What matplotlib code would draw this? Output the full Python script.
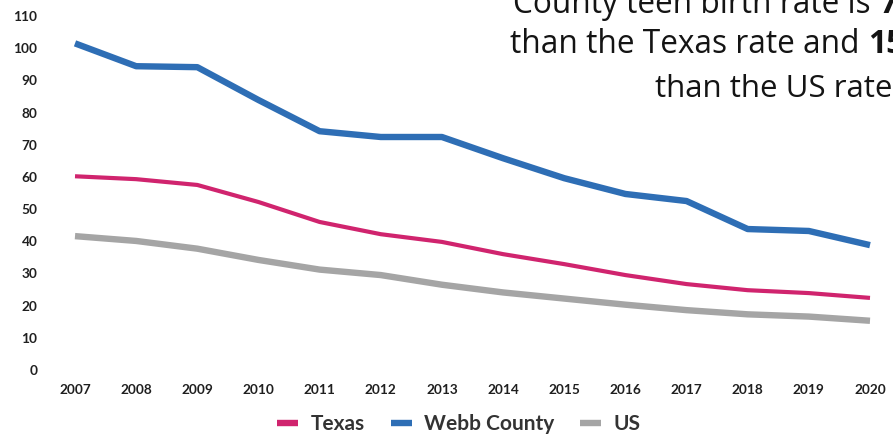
import matplotlib
matplotlib.use("Agg")
import matplotlib.pyplot as plt

years = list(range(2007, 2021))
texas = [60.2, 59.3, 57.5, 52.2, 46.0, 42.2, 39.8, 36.0, 32.9, 29.5, 26.7, 24.8, 23.9, 22.4]
webb = [101.5, 94.4, 94.1, 83.9, 74.2, 72.4, 72.4, 65.8, 59.6, 54.7, 52.5, 43.8, 43.2, 38.8]
us = [41.6, 40.1, 37.7, 34.2, 31.2, 29.5, 26.5, 24.1, 22.2, 20.3, 18.6, 17.3, 16.6, 15.3]
yticks = list(range(0, 111, 10))

W, H = 893, 436
fig = plt.figure(figsize=(W / 100, H / 100), dpi=100)
ax = fig.add_axes([75 / W, (H - 370) / H, 795 / W, 354 / H])

ax.plot(years, us, color="#A5A5A5", lw=4.6, clip_on=False, solid_capstyle="butt", label="US", zorder=2)
ax.plot(years, texas, color="#D0246E", lw=3.0, clip_on=False, solid_capstyle="butt", label="Texas", zorder=3)
ax.plot(years, webb, color="#2E6EB5", lw=4.6, clip_on=False, solid_capstyle="butt", label="Webb County", zorder=4)

ax.set_xlim(2007, 2020)
ax.set_ylim(0, 110)
ax.set_xticks(years)
ax.set_yticks(yticks)
for s in ax.spines.values():
    s.set_visible(False)
ax.tick_params(length=0)
ax.tick_params(axis="y", pad=27)
ax.tick_params(axis="x", pad=10)
for lab in ax.get_xticklabels() + ax.get_yticklabels():
    lab.set_fontfamily("Lato")
    lab.set_fontweight("bold")
    lab.set_fontsize(9.8)
    lab.set_color("#1f1f1f")

handles, labels = ax.get_legend_handles_labels()
order = [1, 2, 0]
leg = fig.legend([handles[i] for i in order], [labels[i] for i in order],
                 loc="center", bbox_to_anchor=(0.514, 0.028), ncol=3, frameon=False,
                 handlelength=1.0, handletextpad=0.6, columnspacing=1.25,
                 prop={"family": "Lato", "weight": "bold", "size": 15})
for t in leg.get_texts():
    t.set_color("#333333")
for h in leg.legend_handles:
    h.set_linewidth(4.6)

tfont = {"family": "Open Sans", "size": 22.8, "weight": "normal", "color": "#141414"}
tfont3 = dict(tfont, size=22.5)
bfont = dict(tfont, weight="bold")
y1 = 1 - 13 / H
y2 = 1 - 53 / H
y3 = 1 - 97 / H
t = fig.text(513 / W, y1, "County teen birth rate is ", va="baseline", ha="left", **tfont)
fig.canvas.draw()
bb = t.get_window_extent()
fig.text(bb.x1 / W, y1, "7", va="baseline", ha="left", **bfont)
t2 = fig.text(510 / W, y2, "than the Texas rate and ", va="baseline", ha="left", **tfont)
fig.canvas.draw()
bb2 = t2.get_window_extent()
fig.text(bb2.x1 / W, y2, "15", va="baseline", ha="left", **bfont)
fig.text(655 / W, y3, "than the US rate", va="baseline", ha="left", **tfont3)

fig.savefig("out.png", dpi=100)
